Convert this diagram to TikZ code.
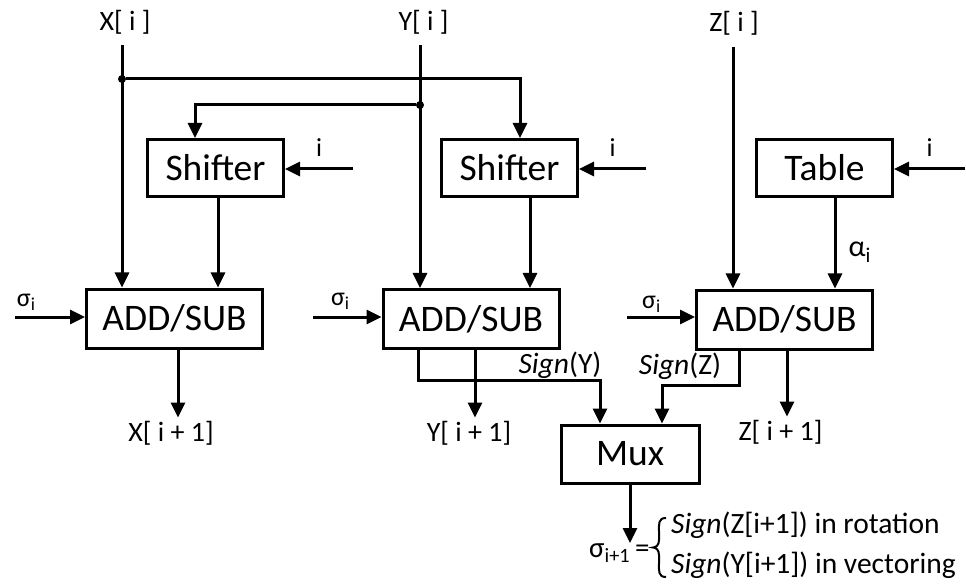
\documentclass[tikz,border=0pt]{standalone}
\usepackage{fontspec}
\setmainfont{Carlito}
\usetikzlibrary{arrows.meta,positioning}
\tikzset{
  blk/.style={draw,line width=3pt,minimum width=136pt,minimum height=57pt,inner sep=0pt,font=\fontsize{37.5}{40}\selectfont},
  addsub/.style={blk,minimum width=176pt,minimum height=59pt},
  wire/.style={line width=3pt},
  arr/.style={wire,-{Triangle[length=15pt,width=14pt]}},
  lbl/.style={inner sep=3pt,font=\fontsize{28}{32}\selectfont},
  small/.style={inner sep=0pt,font=\fontsize{26}{28}\selectfont},
  sgn/.style={inner sep=0pt,anchor=base,font=\fontsize{29.5}{32}\selectfont},
  jdot/.style={circle,fill,inner sep=0pt,minimum size=8pt}
}
\begin{document}
\begin{tikzpicture}[x=1pt,y=-1pt]
\useasboundingbox (0,0) rectangle (966,585);
% blocks
\node[blk] (sh1) at (215.5,168) {Shifter};
\node[blk] (sh2) at (509.5,168) {Shifter};
\node[blk] (tab) at (824.5,168) {Table};
\node[addsub] (add1) at (174.5,318.5) {ADD/SUB};
\node[addsub] (add2) at (471,319) {ADD/SUB};
\node[addsub] (add3) at (784.5,319.5) {ADD/SUB};
\node[blk,minimum width=138pt,minimum height=58pt] (mux) at (630,454) {Mux};

% inputs at the top
\node[lbl,anchor=base] (xin) at (125,31) {X[ i ]};
\node[lbl,anchor=base] (yin) at (423.5,31) {Y[ i ]};
\node[lbl,anchor=base] (zin) at (734,32) {Z[ i ]};
\coordinate (xtop) at (122,45);
\coordinate (ytop) at (420,45);
\coordinate (ztop) at (733,47);
\draw[arr] (xtop) -- (xtop |- add1.north);
\draw[arr] (ytop) -- (ytop |- add2.north);
\draw[arr] (ztop) -- (ztop |- add3.north);
\node[jdot] (jx) at (122,79) {};
\node[jdot] (jy) at (420,105) {};
\draw[arr] (jx) -| ([xshift=10.5pt]sh2.north);
\draw[arr] (jy) -| ([xshift=-20.5pt]sh1.north);

% shift amount i
\coordinate (i1) at (353,169);
\coordinate (i2) at (646,169);
\coordinate (i3) at (965,169);
\draw[arr] (i1) -- node[small,above=11pt]{i} (i1 -| sh1.east);
\draw[arr] (i2) -- node[small,above=11pt]{i} (i2 -| sh2.east);
\draw[arr] (i3) -- node[small,above=11pt]{i} (i3 -| tab.east);

% into the adders
\coordinate (o1) at ([xshift=2.5pt]sh1.south);
\coordinate (o2) at ([xshift=20.5pt]sh2.south);
\coordinate (o3) at ([xshift=10.5pt]tab.south);
\draw[arr] (o1) -- (o1 |- add1.north);
\draw[arr] (o2) -- (o2 |- add2.north);
\draw[arr] (o3) -- node[pos=.6,right=12pt,inner sep=0pt,font=\fontsize{30}{32}\selectfont]{α\textsubscript{i}} (o3 |- add3.north);
\coordinate (s1) at (15,317);
\coordinate (s2) at (313,317);
\coordinate (s3) at (627,317);
\draw[arr] (s1) -- node[small,pos=.16,above=5pt]{σ\textsubscript{i}} (s1 -| add1.west);
\draw[arr] (s2) -- node[small,pos=.4,above=6pt]{σ\textsubscript{i}} (s2 -| add2.west);
\draw[arr] (s3) -- node[small,pos=.36,above=3pt]{σ\textsubscript{i}} (s3 -| add3.west);

% outputs
\node[lbl,anchor=base] (xout) at (171,441) {X[ i + 1]};
\node[lbl,anchor=base] (yout) at (469,441) {Y[ i + 1]};
\node[lbl,anchor=base] (zout) at (780.5,440) {Z[ i + 1]};
\coordinate (r1) at ([xshift=3.5pt]add1.south);
\coordinate (r2) at ([xshift=4pt]add2.south);
\coordinate (r3) at ([xshift=2.5pt]add3.south);
\draw[arr] (r1) -- (r1 |- xout.north);
\draw[arr] (r2) -- (r2 |- yout.north);
\draw[arr] (r3) -- (r3 |- zout.north);

% signs to the mux
\draw[arr] ([xshift=-53pt]add2.south) -- ++(0,30) -| ([xshift=-30pt]mux.north);
\draw[arr] ([xshift=-45.5pt]add3.south) -- ++(0,35) -| ([xshift=32pt]mux.north);
\node[sgn] (sgy) at (560,373) {\textit{Sign}(Y)};
\node[sgn] (sgz) at (680,374) {\textit{Sign}(Z)};

% next direction
\node[inner sep=0pt,anchor=base west,font=\fontsize{29}{30}\selectfont] (sig) at (589,557) {σ\textsubscript{i+1}\,=};
\coordinate (bt) at (666,518);
\coordinate (bm) at (653,547.5);
\coordinate (bb) at (666,577);
\draw[line width=2pt] (bt) .. controls (658,518) and (659,524) .. (659,532) -- (659,540)
  .. controls (659,545) and (656,547.5) .. (bm) .. controls (656,547.5) and (659,550) .. (659,555)
  -- (659,563) .. controls (659,571) and (658,577) .. (bb);
\node[sgn,anchor=base west] (rot) at (671,533) {\textit{Sign}(Z[i+1]) in rotation};
\node[sgn,anchor=base west] (vec) at (671,573) {\textit{Sign}(Y[i+1]) in vectoring};
\draw[arr] (mux.south) -- (mux.south |- sig.north);
\end{tikzpicture}
\end{document}
